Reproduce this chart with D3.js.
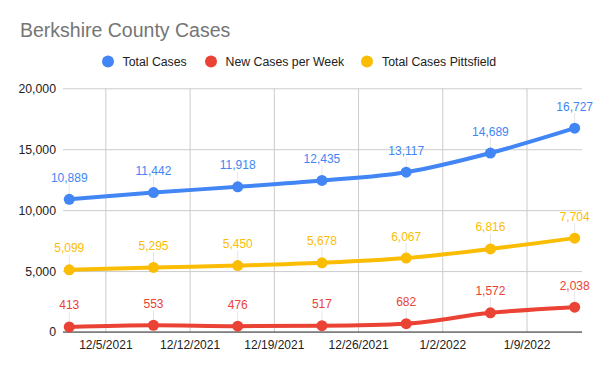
<!DOCTYPE html>
<html><head><meta charset="utf-8">
<script src="https://cdn.jsdelivr.net/npm/d3@7"></script>
<style>body{margin:0;background:#fff}text{font-family:"Liberation Sans",Arial,sans-serif}</style>
</head><body><svg id="c" width="600" height="371"></svg>
<script>
const dates = ["2021-12-02","2021-12-09","2021-12-16","2021-12-23","2021-12-30","2022-01-06","2022-01-13"];
const totalCases = [10889,11442,11918,12435,13117,14689,16727];
const newCasesPerWeek = [413,553,476,517,682,1572,2038];
const totalPittsfield = [5099,5295,5450,5678,6067,6816,7704];
const seriesNames = ["Total Cases","New Cases per Week","Total Cases Pittsfield"];
const colors = ["#4285F4","#EA4335","#FBBC04"];
const xTicks = ["2021-12-05","2021-12-12","2021-12-19","2021-12-26","2022-01-02","2022-01-09"];
const yTicks = [0,5000,10000,15000,20000];

(function(){
const parse = d3.timeParse("%Y-%m-%d");
const D = dates.map(parse);
const svg = d3.select("#c");
const pL=63, pR=582, pT=88.3, pB=332;
const dayMs = 864e5;
const AF = '"Liberation Sans", Arial, sans-serif';
const x = d3.scaleTime().domain([new Date(+D[0]-0.52*dayMs), new Date(+D[6]+0.61*dayMs)]).range([pL,pR]);
const y = d3.scaleLinear().domain([0,20000]).range([pB,pT]);

svg.append("text").attr("x",20).attr("y",37).attr("font-size",19.5).attr("fill","#757575").text("Berkshire County Cases");

const leg = [{cx:108,tx:122.5},{cx:211,tx:225.5},{cx:367,tx:382}];
seriesNames.forEach((n,i)=>{
  svg.append("circle").attr("cx",leg[i].cx).attr("cy",61.5).attr("r",6).attr("fill",colors[i]);
  svg.append("text").attr("x",leg[i].tx).attr("y",66).attr("font-size",12.3).attr("fill","#222").text(n);
});

const yAxis = d3.axisLeft(y).tickValues(yTicks).tickSize(-(pR-pL)).tickFormat(d3.format(","));
const gy = svg.append("g").attr("transform",`translate(${pL},0)`).call(yAxis);
gy.select(".domain").remove();
gy.selectAll(".tick line").attr("stroke","#cccccc");
gy.selectAll(".tick text").attr("x",-7).attr("font-size",12.3).attr("fill","#222").attr("font-family",AF);

const xAxis = d3.axisBottom(x).tickValues(xTicks.map(parse)).tickSize(-(pB-pT)).tickFormat(d3.timeFormat("%-m/%-d/%Y"));
const gx = svg.append("g").attr("transform",`translate(0,${pB})`).call(xAxis);
gx.select(".domain").remove();
gx.selectAll(".tick line").attr("stroke","#cccccc");
gx.selectAll(".tick text").attr("y",8).attr("font-size",12).attr("fill","#222").attr("font-family",AF);

svg.append("line").attr("x1",pL).attr("x2",pR).attr("y1",pB).attr("y2",pB).attr("stroke","#333").attr("stroke-width",1);

const series = [totalCases,newCasesPerWeek,totalPittsfield];
const line = d3.line().x((d,i)=>x(D[i])).y(d=>y(d)).curve(d3.curveMonotoneX);
const fmt = d3.format(",");
[2,1,0].forEach(s=>{
  const vals = series[s];
  svg.append("path").attr("d",line(vals)).attr("fill","none").attr("stroke",colors[s]).attr("stroke-width",4).attr("stroke-linejoin","round");
  vals.forEach((v,i)=>{
    svg.append("line").attr("x1",x(D[i])).attr("x2",x(D[i])).attr("y1",y(v)-5).attr("y2",y(v)-15).attr("stroke","#e6e6e6").attr("stroke-width",1);
    svg.append("circle").attr("cx",x(D[i])).attr("cy",y(v)).attr("r",5.5).attr("fill",colors[s]);
    svg.append("text").attr("x",x(D[i])).attr("y",y(v)-17.5).attr("text-anchor","middle").attr("font-size",12).attr("font-family","Roboto, Arial, sans-serif").attr("fill",colors[s]).text(fmt(v));
  });
});
})();
</script></body></html>
